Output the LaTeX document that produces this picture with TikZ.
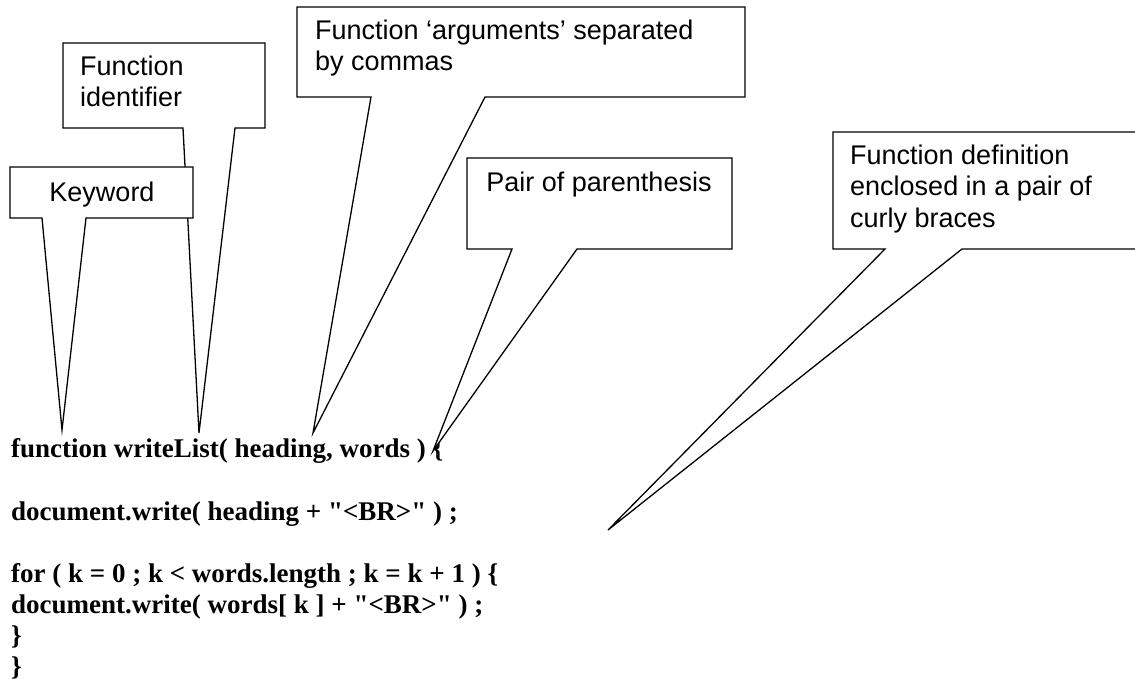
\documentclass[tikz,border=0pt]{standalone}
\usepackage{fontspec}
\setmainfont{Liberation Serif}[Ligatures=TeXOff]
\newfontfamily\calloutfont{Liberation Sans}
\tikzset{
  callout/.style={draw=black, fill=white, line width=1.3pt, line join=miter},
  lbl/.style={anchor=base west, inner sep=0pt, font=\calloutfont\fontsize{27}{31}\selectfont},
  lblc/.style={anchor=base, inner sep=0pt, font=\calloutfont\fontsize{27}{31}\selectfont},
  code/.style={anchor=base west, inner sep=0pt, font=\bfseries\fontsize{27}{31}\selectfont},
}
\begin{document}
\begin{tikzpicture}[x=1pt,y=-1pt]
\useasboundingbox (0,0) rectangle (1135,679);
\clip (0,0) rectangle (1135,679);
\fill[white] (0,0) rectangle (1135,679);

% code lines
\node[code] (c1) at (11,457) {function writeList( heading, words ) \{};
\node[code] (c2) at (11,520) {document.write( heading + "<BR>" ) ;};
\node[code] (c3) at (11,582) {for ( k = 0 ; k < words.length ; k = k + 1 ) \{};
\node[code] (c4) at (11,613) {document.write( words[ k ] + "<BR>" ) ;};
\node[code] (c5) at (11,644) {\}};
\node[code] (c6) at (11,675) {\}};

% tips of the callouts
\coordinate (kwTip) at (62,430);
\coordinate (idTip) at (199,433);
\coordinate (argTip) at (313,433);
\coordinate (parTip) at (433,451);
\coordinate (defTip) at (608,530);

% Function arguments callout
\draw[callout] (297,7) -- (745,7) -- (745,97) -- (485,97) -- (argTip) -- (371,97) -- (297,97) -- cycle;
\node[lbl] (args1) at (315,40) {Function ‘arguments’ separated};
\node[lbl] (args2) at (315,71) {by commas};

% Pair of parenthesis callout
\draw[callout] (467,158) -- (732,158) -- (732,249) -- (577,249) -- (parTip) -- (512,249) -- (467,249) -- cycle;
\node[lblc] (par) at (599,192) {Pair of parenthesis};

% Function definition callout
\draw[callout] (833,132) -- (1145,132) -- (1145,249) -- (962,249) -- (defTip) -- (885,249) -- (833,249) -- cycle;
\node[lbl] (def1) at (850,165) {Function definition};
\node[lbl] (def2) at (850,196) {enclosed in a pair of};
\node[lbl] (def3) at (850,227) {curly braces};

% Function identifier callout
\draw[callout] (63,43) -- (265,43) -- (265,128) -- (235,128) -- (idTip) -- (183,128) -- (63,128) -- cycle;
\node[lbl] (id1) at (80,76) {Function};
\node[lbl] (id2) at (80,107) {identifier};

% Keyword callout (on top)
\draw[callout] (10,167) -- (193,167) -- (193,218) -- (86,218) -- (kwTip) -- (42,218) -- (10,218) -- cycle;
\node[lblc] (kw) at (102,202) {Keyword};
\end{tikzpicture}
\end{document}
